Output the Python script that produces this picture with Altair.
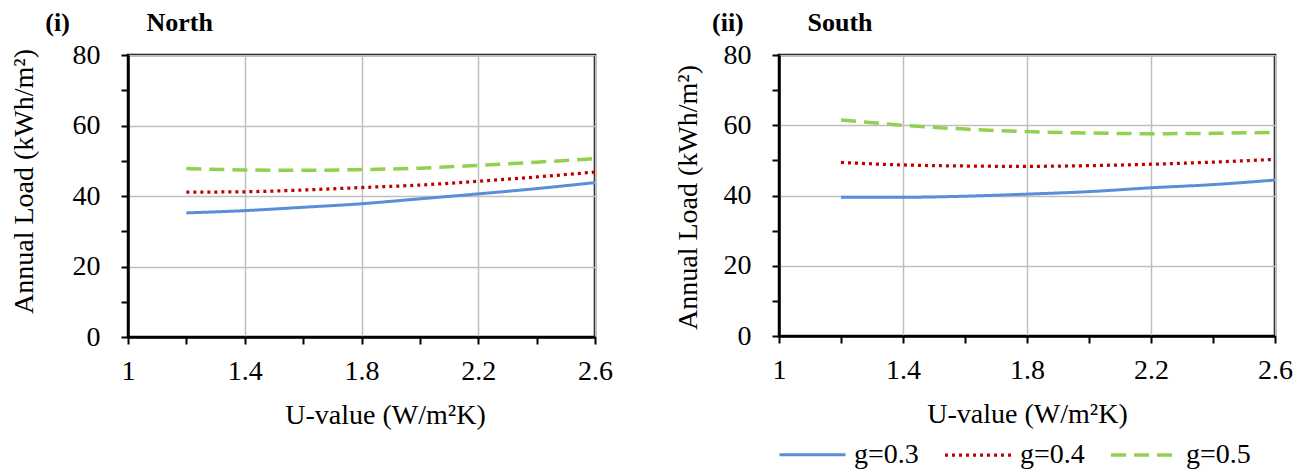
import json
import altair as alt
import pandas as pd

# ---------------- data ----------------
u_values = [1.2, 1.4, 1.6, 1.8, 2.0, 2.2, 2.4, 2.6]
series = ["g=0.3", "g=0.4", "g=0.5"]

north_g03 = [35.2, 35.85, 36.8, 37.8, 39.2, 40.6, 42.1, 43.8]
north_g04 = [41.1, 41.2, 41.7, 42.4, 43.1, 44.2, 45.4, 46.8]
north_g05 = [47.8, 47.4, 47.3, 47.5, 47.9, 48.7, 49.6, 50.6]

south_g03 = [39.5, 39.5, 39.8, 40.4, 41.1, 42.2, 43.1, 44.4]
south_g04 = [49.4, 48.7, 48.4, 48.3, 48.5, 48.9, 49.5, 50.3]
south_g05 = [61.5, 60.0, 58.9, 58.2, 57.8, 57.6, 57.7, 58.0]

x_ticks = [1.0, 1.2, 1.4, 1.6, 1.8, 2.0, 2.2, 2.4, 2.6]
x_label_ticks = [1.0, 1.4, 1.8, 2.2, 2.6]
x_grid_ticks = [1.4, 1.8, 2.2, 2.6]
y_ticks = [0, 10, 20, 30, 40, 50, 60, 70, 80]
y_label_ticks = [0, 20, 40, 60, 80]

colors = ["#5A8ED6", "#C00000", "#92D050"]
dashes = [[1, 0], [3, 4], [15, 8]]
widths = [3, 3.5, 4]

FONT = "Liberation Serif"


def make_df(vals_list):
    rows = []
    for name, vals in zip(series, vals_list):
        for u, v in zip(u_values, vals):
            rows.append({"U": u, "load": v, "g": name})
    return pd.DataFrame(rows)


north_df = make_df([north_g03, north_g04, north_g05])
south_df = make_df([south_g03, south_g04, south_g05])

x_label_expr = f"indexof({json.dumps(x_label_ticks)}, datum.value) >= 0 ? toString(round(datum.value*10)/10) : ''"
x_grid_test = f"indexof({json.dumps(x_grid_ticks)}, datum.value) >= 0"
y_label_expr = f"indexof({json.dumps(y_label_ticks)}, datum.value) >= 0 ? datum.label : ''"
y_grid_test = f"indexof({json.dumps(y_label_ticks)}, datum.value) >= 0 && datum.value > 0"

legend = alt.Legend(
    orient="none",
    legendX=650,
    legendY=365,
    direction="horizontal",
    title=None,
    symbolType="stroke",
    symbolSize=4356,
    symbolStrokeWidth=3,
    labelFont=FONT,
    labelFontSize=28,
    labelColor="black",
    labelOffset=7,
    columnPadding=19,
)


def panel(df, title_text, w, h, title_dx, title_offset, xt_x, yt_x, yt_y):
    return (
        alt.Chart(df)
        .mark_line(interpolate="monotone")
        .encode(
            x=alt.X(
                "U:Q",
                scale=alt.Scale(domain=[1, 2.6], nice=False, zero=False),
                axis=alt.Axis(
                    values=x_ticks,
                    labelExpr=x_label_expr,
                    gridOpacity={"condition": {"test": x_grid_test, "value": 1}, "value": 0},
                    title="U-value (W/m²K)",
                    titleX=xt_x,
                    titleY=86,
                    titleBaseline="alphabetic",
                    titleAlign="center",
                    labelPadding=13,
                    labelFlush=False,
                ),
            ),
            y=alt.Y(
                "load:Q",
                scale=alt.Scale(domain=[0, 80], nice=False),
                axis=alt.Axis(
                    values=y_ticks,
                    labelExpr=y_label_expr,
                    gridOpacity={"condition": {"test": y_grid_test, "value": 1}, "value": 0},
                    title="Annual Load (kWh/m²)",
                    titleAngle=270,
                    titleX=yt_x,
                    titleY=yt_y,
                    titleBaseline="middle",
                    titleAlign="center",
                    labelPadding=21,
                ),
            ),
            color=alt.Color("g:N", scale=alt.Scale(domain=series, range=colors), legend=legend),
            strokeDash=alt.StrokeDash("g:N", scale=alt.Scale(domain=series, range=dashes), legend=legend),
            strokeWidth=alt.StrokeWidth("g:N", scale=alt.Scale(domain=series, range=widths), legend=None),
        )
        .properties(
            width=w,
            height=h,
            title=alt.TitleParams(
                text=title_text,
                anchor="start",
                frame="group",
                dx=title_dx,
                offset=title_offset,
                baseline="alphabetic",
                font=FONT,
                fontSize=26,
                fontWeight="bold",
                color="black",
            ),
        )
    )


left = panel(north_df, "(i)\u2003\u2003\u2002\u2009 North", 467, 282, -82.7, -16, 257, -104, 126)
right = panel(south_df, "(ii)\u2003\u2003\u2009 South", 496, 281, -67, -16, 248, -91, 142)

chart = (
    alt.hconcat(
        left,
        right,
        spacing=58,
        background="white",
        padding={"left": 0, "top": 0, "right": 0, "bottom": 0},
    )
    .configure_view(stroke="black", strokeWidth=2.5)
    .configure_axis(
        domainColor="black",
        domainWidth=2.5,
        tickColor="black",
        tickWidth=2,
        tickSize=7,
        gridColor="#BFBFBF",
        gridWidth=1.5,
        labelFont=FONT,
        labelFontSize=28,
        labelColor="black",
        titleFont=FONT,
        titleFontSize=28,
        titleFontWeight="normal",
        titleColor="black",
    )
)

chart.save("out.html", embed_options={"renderer": "svg", "actions": False})
